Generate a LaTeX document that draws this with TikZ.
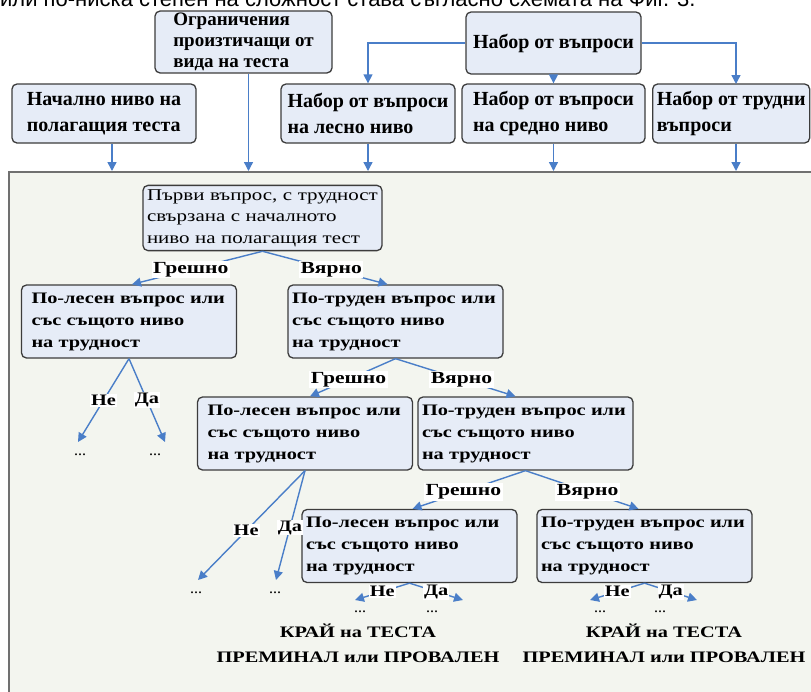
\documentclass[tikz,border=0pt]{standalone}
\usepackage{fontspec}
\setmainfont{Liberation Serif}
\newfontfamily\topfont{Liberation Sans}
\newfontfamily\wideserif[FakeStretch=1.27]{Liberation Serif}
\usepackage{tikz}
\usetikzlibrary{arrows.meta}
\definecolor{BoxFill}{HTML}{E6ECF7}
\definecolor{BoxLine}{HTML}{3C3C3C}
\definecolor{ArrBlue}{HTML}{4A7EC8}
\definecolor{FrameFill}{HTML}{F3F5EF}
\definecolor{FrameLine}{HTML}{707070}

\tikzset{
  topbox/.style={draw=BoxLine, fill=BoxFill, rounded corners=5pt,
    line width=1.3pt, inner sep=2pt, align=left,
    font=\bfseries\fontsize{20}{26}\selectfont},
  qbox/.style={draw=BoxLine, fill=BoxFill, rounded corners=5pt,
    line width=1.3pt, minimum width=215pt, minimum height=73pt,
    text width=195pt, inner xsep=10pt, inner ysep=6pt, align=left,
    font=\wideserif\bfseries\fontsize{16}{22}\selectfont},
  hardbox/.style={qbox, text width=207pt, inner xsep=4pt},
  arr/.style={draw=ArrBlue, line width=1.4pt,
    -{Triangle[length=9pt,width=9pt]}},
  lbl/.style={fill=white, inner sep=1.5pt,
    font=\wideserif\bfseries\fontsize{17}{17}\selectfont},
  yn/.style={fill=white, inner sep=1pt,
    font=\wideserif\bfseries\fontsize{16}{16}\selectfont},
  dots/.style={inner sep=0pt, font=\fontsize{16}{16}\selectfont},
  endtxt/.style={align=center,
    font=\wideserif\bfseries\fontsize{16}{25}\selectfont}
}

\begin{document}
\begin{tikzpicture}[x=1pt, y=-1pt]

  \useasboundingbox[fill=white] (0,0) rectangle (811,691);

  %% cut-off line of the text above
  \node[anchor=base west, inner sep=0pt,
        font=\topfont\fontsize{22}{24}\selectfont] (caption) at (0,6.5)
    {или по-ниска степен на сложност става съгласно схемата на Фиг. 3.};

  %% the frame round the test
  \node[draw=FrameLine, fill=FrameFill, line width=1.6pt, anchor=north west,
        minimum width=830pt, minimum height=540pt] (frame) at (8,171) {};

  %% inputs
  \node[topbox, minimum width=177pt, minimum height=60pt,
        font=\bfseries\fontsize{19}{21}\selectfont] (limits) at (243.5,42)
    {Ограничения\\произтичащи от\\вида на теста};
  \node[topbox, minimum width=175pt, minimum height=62pt, align=center] (qset) at (553.5,43)
    {Набор от въпроси};
  \node[topbox, minimum width=184pt, minimum height=59pt] (start) at (104,113.5)
    {Начално ниво на\\полагащия теста};
  \node[topbox, minimum width=174pt, minimum height=59pt] (easy) at (368,113.5)
    {Набор от въпроси\\на лесно ниво};
  \node[topbox, minimum width=183pt, minimum height=59pt] (medium) at (553.5,113.5)
    {Набор от въпроси\\на средно ниво};
  \node[topbox, minimum width=157pt, minimum height=59pt, anchor=west] (hard) at (652,113.5)
    {Набор от трудни\\въпроси};

  \draw[arr] (qset.west) -| (easy.north);
  \draw[arr] (qset.south) -- (medium.north);
  \draw[arr] (qset.east) -| (736,84);

  \draw[arr] ([xshift=8pt]start.south) -- ([xshift=8pt]start.south |- frame.north);
  \draw[arr] ([xshift=5pt]limits.south) -- ([xshift=5pt]limits.south |- frame.north);
  \draw[arr] (easy.south) -- (easy.south |- frame.north);
  \draw[arr] (medium.south) -- (medium.south |- frame.north);
  \draw[arr] (hard.south -| 736,0) -- (frame.north -| 736,0);

  %% questions
  \node[qbox, minimum width=239pt, minimum height=58pt, text width=231pt, inner sep=4pt,
        font=\wideserif\fontsize{16.5}{21.5}\selectfont] (first) at (262.5,218)
    {Първи въпрос, с трудност\\свързана с началното\\ниво на полагащия тест};

  \node[qbox] (eas1) at (129,321.5) {По-лесен въпрос или\\със същото ниво\\на трудност};
  \node[hardbox] (har1) at (395.5,321.5) {По-труден въпрос или\\със същото ниво\\на трудност};
  \node[qbox] (eas2) at (305,433.5) {По-лесен въпрос или\\със същото ниво\\на трудност};
  \node[hardbox] (har2) at (525.5,433.5) {По-труден въпрос или\\със същото ниво\\на трудност};
  \node[qbox, text width=207pt, inner xsep=4pt] (eas3) at (409.5,546) {По-лесен въпрос или\\със същото ниво\\на трудност};
  \node[hardbox] (har3) at (644.5,546) {По-труден въпрос или\\със същото ниво\\на трудност};

  \draw[arr] (first.south) -- node[lbl, pos=0.55]{Грешно} ([xshift=3pt]eas1.north);
  \draw[arr] (first.south) -- node[lbl, pos=0.55]{Вярно} ([xshift=-8pt]har1.north);
  \draw[arr] (har1.south) -- node[lbl, pos=0.55]{Грешно} ([xshift=5pt]eas2.north);
  \draw[arr] (har1.south) -- node[lbl, pos=0.55]{Вярно} ([xshift=-10pt]har2.north);
  \draw[arr] (har2.south) -- node[lbl, pos=0.55]{Грешно} ([xshift=3pt]eas3.north);
  \draw[arr] (har2.south) -- node[lbl, pos=0.55]{Вярно} ([xshift=-6pt]har3.north);

  %% open ends
  \coordinate (e1no) at (78,442);  \coordinate (e1yes) at (165,442);
  \coordinate (e2no) at (198,580); \coordinate (e2yes) at (276,580);
  \coordinate (e3no) at (355,600); \coordinate (e3yes) at (463,600);
  \coordinate (h3no) at (590,600); \coordinate (h3yes) at (697,600);

  \draw[arr] (eas1.south) -- node[yn, pos=0.5]{Не} (e1no);
  \draw[arr] (eas1.south) -- node[yn, pos=0.5]{Да} (e1yes);
  \draw[arr] (eas2.south) -- node[yn, pos=0.55]{Не} (e2no);
  \draw[arr] (eas2.south) -- node[yn, pos=0.52]{Да} (e2yes);
  \draw[arr] (eas3.south) -- node[yn, pos=0.5]{Не} (e3no);
  \draw[arr] (eas3.south) -- node[yn, pos=0.5]{Да} (e3yes);
  \draw[arr] (har3.south) -- node[yn, pos=0.5]{Не} (h3no);
  \draw[arr] (har3.south) -- node[yn, pos=0.5]{Да} (h3yes);

  \node[dots] (d1) at (80,455) {...};
  \node[dots] (d2) at (155,455) {...};
  \node[dots] (d3) at (196,593) {...};
  \node[dots] (d4) at (275,593) {...};
  \node[dots] (d5) at (360,612) {...};
  \node[dots] (d6) at (432,612) {...};
  \node[dots] (d7) at (600,612) {...};
  \node[dots] (d8) at (660,612) {...};

  \node[endtxt] (endl) at (358,643) {КРАЙ на ТЕСТА\\ПРЕМИНАЛ или ПРОВАЛЕН};
  \node[endtxt] (endr) at (664,643) {КРАЙ на ТЕСТА\\ПРЕМИНАЛ или ПРОВАЛЕН};

\end{tikzpicture}
\end{document}
